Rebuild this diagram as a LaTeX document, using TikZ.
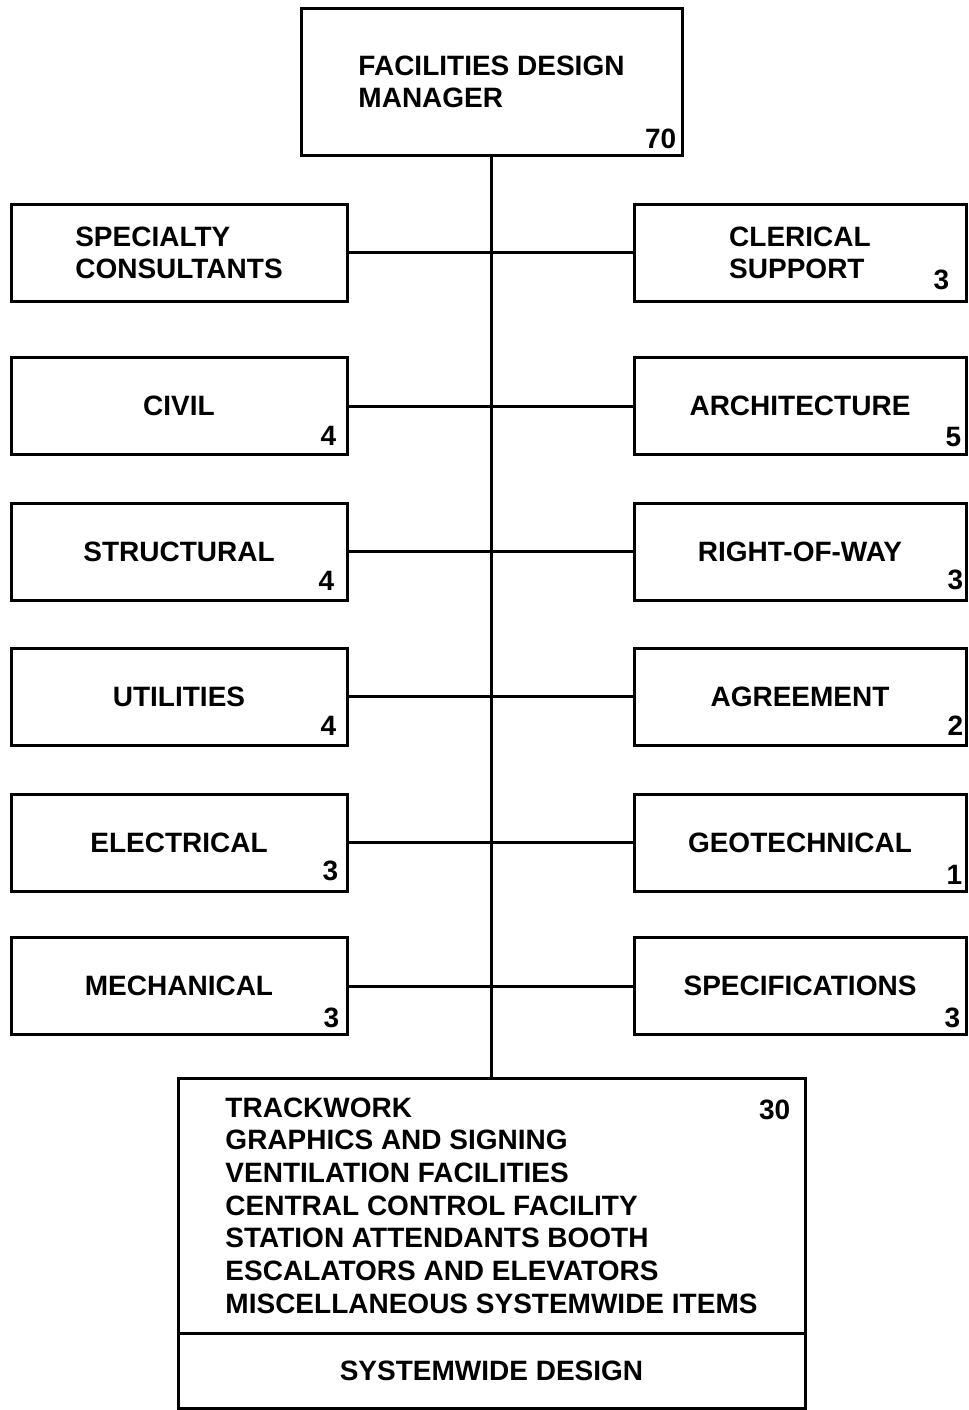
\documentclass[tikz,border=0pt]{standalone}
\usepackage{fontspec}
\setmainfont{Liberation Sans}
\usepackage{tikz}
\tikzstyle{box_left} = [rectangle, draw, line width=2.25pt, minimum width=252pt, minimum height=72.75pt, inner sep=0pt, align=center, font=\fontsize{21}{24}\selectfont\bfseries]
\tikzstyle{box_right} = [box_left, minimum width=249pt]
\tikzstyle{box_top} = [box_left, minimum width=285.75pt, minimum height=110.25pt, align=left]
\tikzstyle{box_items} = [box_left, minimum width=470.25pt, minimum height=191.25pt, align=left, font=\fontsize{21}{24.5}\selectfont\bfseries]
\tikzstyle{box_title} = [box_left, minimum width=470.25pt, minimum height=56.25pt]
\tikzstyle{count} = [inner sep=0pt, anchor=south east, font=\fontsize{21}{24}\selectfont\bfseries]
\tikzstyle{edge_normal} = [line width=2.25pt]

\begin{document}
\begin{tikzpicture}[x=0.75pt, y=-0.75pt]
			\useasboundingbox (0,0) rectangle (968,1410);
			\node (M) at (491.5,81.5) [box_top] {FACILITIES DESIGN\\MANAGER};
			
			\node (SC) at (179,252.5) [box_left, align=left] {SPECIALTY\\CONSULTANTS};
			\node (CV) at (179,406) [box_left] {CIVIL};
			\node (ST) at (179,551.5) [box_left] {STRUCTURAL};
			\node (UT) at (179,696.5) [box_left] {UTILITIES};
			\node (EL) at (179,842.5) [box_left] {ELECTRICAL};
			\node (ME) at (179,986) [box_left] {MECHANICAL};
			
			\node (CS) at (800,252.5) [box_right, align=left] {CLERICAL\\SUPPORT};
			\node (AR) at (800,406) [box_right] {ARCHITECTURE};
			\node (RW) at (800,551.5) [box_right] {RIGHT-OF-WAY};
			\node (AG) at (800,696.5) [box_right] {AGREEMENT};
			\node (GT) at (800,842.5) [box_right] {GEOTECHNICAL};
			\node (SP) at (800,986) [box_right] {SPECIFICATIONS};
			
			\node (SW) at (491.5,1205.5) [box_items] {TRACKWORK\\GRAPHICS AND SIGNING\\VENTILATION FACILITIES\\CENTRAL CONTROL FACILITY\\STATION ATTENDANTS BOOTH\\ESCALATORS AND ELEVATORS\\MISCELLANEOUS SYSTEMWIDE ITEMS};
			\node (SD) at (491.5,1370.5) [box_title] {SYSTEMWIDE DESIGN};
			
			\node (N70) at ([shift={(-7,-7)}]M.south east) [count] {70};
			\node (N30) at ([shift={(-16,23)}]SW.north east) [count, anchor=north east] {30};
			\node (NCV) at ([shift={(-12,-10)}]CV.south east) [count] {4};
			\node (NST) at ([shift={(-14,-11)}]ST.south east) [count] {4};
			\node (NUT) at ([shift={(-12,-11)}]UT.south east) [count] {4};
			\node (NEL) at ([shift={(-10,-11)}]EL.south east) [count] {3};
			\node (NME) at ([shift={(-9,-8)}]ME.south east) [count] {3};
			\node (NCS) at ([shift={(-18,-12)}]CS.south east) [count] {3};
			\node (NAR) at ([shift={(-6,-9)}]AR.south east) [count] {5};
			\node (NRW) at ([shift={(-4,-11)}]RW.south east) [count] {3};
			\node (NAG) at ([shift={(-4,-11)}]AG.south east) [count] {2};
			\node (NGT) at ([shift={(-5,-8)}]GT.south east) [count] {1};
			\node (NSP) at ([shift={(-7,-8)}]SP.south east) [count] {3};
			
			\draw[edge_normal] (M)--(SW);
			\draw[edge_normal] (SC)--(CS) (CV)--(AR) (ST)--(RW);
			\draw[edge_normal] (UT)--(AG) (EL)--(GT) (ME)--(SP);
		\end{tikzpicture}
\end{document}
